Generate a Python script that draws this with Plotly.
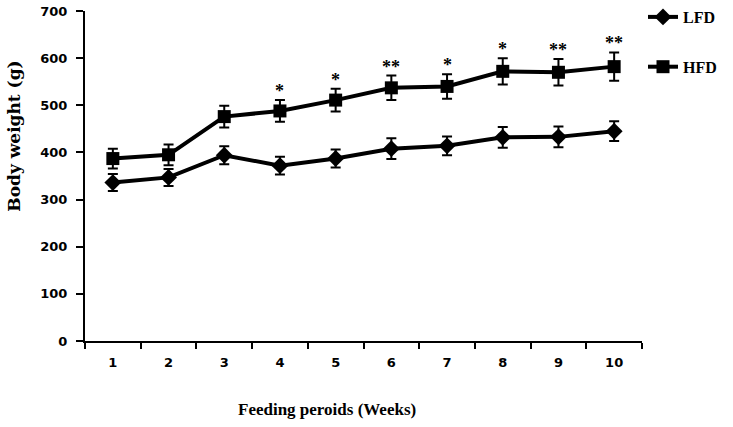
import plotly.graph_objects as go

# Feeding period (weeks)
weeks = ["1", "2", "3", "4", "5", "6", "7", "8", "9", "10"]

# Body weight (g), mean and error
lfd_mean = [336, 347, 394, 372, 387, 408, 414, 432, 433, 445]
lfd_err = [18, 18, 19, 19, 19, 22, 20, 22, 22, 21]
hfd_mean = [387, 395, 476, 488, 511, 537, 540, 572, 570, 582]
hfd_err = [21, 22, 23, 23, 24, 26, 26, 28, 28, 30]

# Significance marks above the HFD series
sig_marks = ["", "", "", "*", "*", "**", "*", "*", "**", "**"]

y_ticks = [0, 100, 200, 300, 400, 500, 600, 700]

SERIF = "Liberation Serif"
WIDE_SERIF = "DejaVu Serif"
SANS = "DejaVu Sans"

fig = go.Figure()

fig.add_trace(go.Scatter(
    x=weeks, y=lfd_mean, name="LFD", legendgroup="lfd",
    mode="lines+markers",
    line=dict(color="black", width=4),
    marker=dict(symbol="diamond", size=13, color="black"),
    error_y=dict(type="data", array=lfd_err, visible=True,
                 color="black", thickness=2, width=5),
))

fig.add_trace(go.Scatter(
    x=weeks, y=hfd_mean, name="HFD", legendgroup="hfd",
    mode="lines+markers",
    line=dict(color="black", width=4),
    marker=dict(symbol="square", size=13, color="black"),
    error_y=dict(type="data", array=hfd_err, visible=True,
                 color="black", thickness=2, width=5),
))

# category axis: annotate by category index
for i, (m, e, s) in enumerate(zip(hfd_mean, hfd_err, sig_marks)):
    if s:
        fig.add_annotation(
            x=i, y=m + e, text=s, showarrow=False,
            yanchor="bottom", yshift=-3,
            font=dict(family=SERIF, size=18, color="black", weight="bold"),
        )

fig.add_annotation(
    xref="paper", yref="paper", x=0.434, y=-(410 - 341) / 330,
    text="Feeding peroids (Weeks)", showarrow=False,
    xanchor="center", yanchor="middle",
    font=dict(family=SERIF, size=17, color="black", weight="bold"),
)
fig.add_annotation(
    xref="paper", yref="paper", x=-0.128, y=(341 - 136) / 330,
    text="Body weight (g)", showarrow=False, textangle=-90,
    xanchor="center", yanchor="middle",
    font=dict(family=WIDE_SERIF, size=17, color="black", weight="bold"),
)

fig.update_layout(
    width=733, height=427,
    margin=dict(l=85, r=91, t=11, b=86, autoexpand=False),
    paper_bgcolor="white", plot_bgcolor="white",
    showlegend=True,
    legend=dict(
        xref="container", yref="container",
        x=643 / 733, y=1.0, xanchor="left", yanchor="top",
        traceorder="grouped", tracegroupgap=26,
        font=dict(family=SERIF, size=16, color="black", weight="bold"),
        itemwidth=30, bgcolor="rgba(0,0,0,0)",
    ),
    xaxis=dict(
        type="category", range=[-0.5, 9.5],
        showline=True, linecolor="black", linewidth=2,
        ticks="outside", tickson="boundaries", ticklen=6,
        tickwidth=2, tickcolor="black",
        showgrid=False, zeroline=False,
        ticklabelstandoff=8,
        tickfont=dict(family=SANS, size=13, color="black", weight="bold"),
    ),
    yaxis=dict(
        range=[0, 700], tickvals=y_ticks,
        showline=True, linecolor="black", linewidth=2,
        ticks="outside", ticklen=7, tickwidth=2, tickcolor="black",
        showgrid=False, zeroline=False,
        ticklabelstandoff=6,
        tickfont=dict(family=SANS, size=13, color="black", weight="bold"),
    ),
)

fig.write_html("out.html")
